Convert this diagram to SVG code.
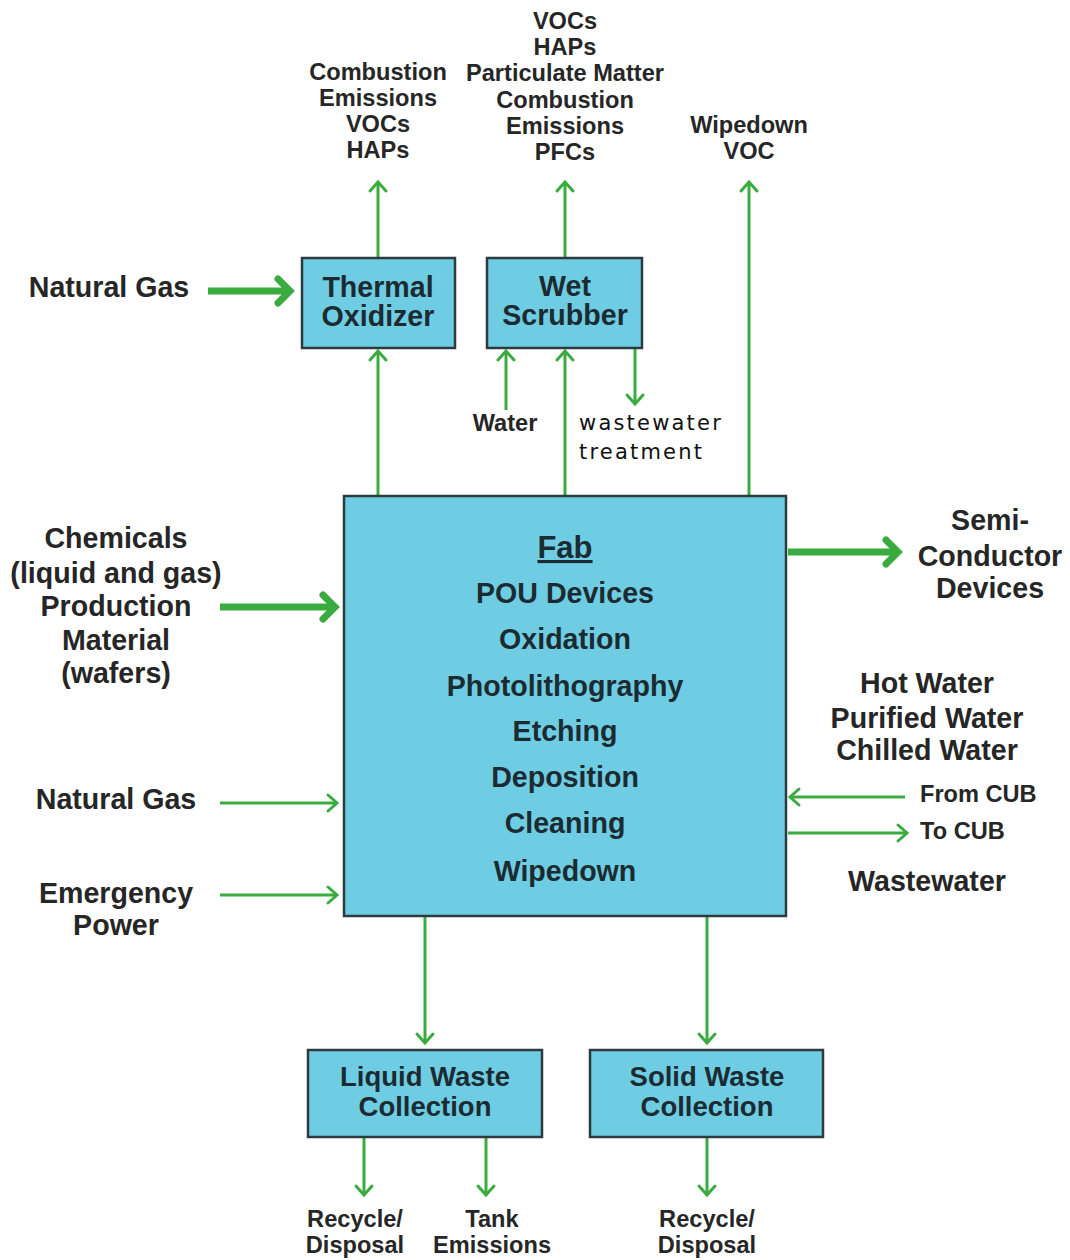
<svg xmlns="http://www.w3.org/2000/svg" width="1070" height="1260" viewBox="0 0 1070 1260">
<defs>
<style>
.box{fill:#6ecde3;stroke:#2d3a3e;stroke-width:2.5}
.t{font-family:"Liberation Sans",Arial,sans-serif;font-weight:bold;fill:#262626;text-anchor:middle}
.s22{font-size:23.6px}
.s27{font-size:28.6px}
.bx{font-family:"Liberation Sans",Arial,sans-serif;font-weight:bold;fill:#1c2b31;text-anchor:middle;font-size:28.6px}
.bw{font-size:27.5px}
.ln{stroke:#3aab3f;stroke-width:3;fill:none}
.thk{stroke:#3aab3f;stroke-width:7;fill:none}
.ww{font-family:"DejaVu Sans",Verdana,sans-serif;font-size:21px;fill:#111;letter-spacing:2.2px}
</style>
<marker id="a" markerUnits="userSpaceOnUse" markerWidth="24" markerHeight="24" refX="12" refY="12" orient="auto" overflow="visible">
<path d="M3,4 L12,12 L3,20" fill="none" stroke="#3aab3f" stroke-width="3" stroke-linecap="round"/>
</marker>
<marker id="A" markerUnits="userSpaceOnUse" markerWidth="40" markerHeight="40" refX="20" refY="20" orient="auto" overflow="visible">
<path d="M8,8 L20,20 L8,32" fill="none" stroke="#3aab3f" stroke-width="7" stroke-linecap="round"/>
</marker>
</defs>
<rect width="1070" height="1260" fill="#fff"/>

<g id="connectors">
<line class="ln" x1="378" y1="258" x2="378" y2="182" marker-end="url(#a)"/>
<line class="ln" x1="378" y1="496" x2="378" y2="351" marker-end="url(#a)"/>
<line class="ln" x1="565" y1="258" x2="565" y2="182" marker-end="url(#a)"/>
<line class="ln" x1="565" y1="496" x2="565" y2="351" marker-end="url(#a)"/>
<line class="ln" x1="506" y1="410" x2="506" y2="351" marker-end="url(#a)"/>
<line class="ln" x1="635" y1="348" x2="635" y2="404" marker-end="url(#a)"/>
<line class="ln" x1="749" y1="496" x2="749" y2="182" marker-end="url(#a)"/>
<line class="thk" x1="208" y1="291" x2="290" y2="291" marker-end="url(#A)"/>
<line class="thk" x1="220" y1="607" x2="335" y2="607" marker-end="url(#A)"/>
<line class="ln" x1="220" y1="803" x2="337" y2="803" marker-end="url(#a)"/>
<line class="ln" x1="220" y1="895" x2="337" y2="895" marker-end="url(#a)"/>
<line class="thk" x1="788" y1="552" x2="898" y2="552" marker-end="url(#A)"/>
<line class="ln" x1="905" y1="797" x2="790" y2="797" marker-end="url(#a)"/>
<line class="ln" x1="788" y1="833" x2="907" y2="833" marker-end="url(#a)"/>
<line class="ln" x1="425" y1="916" x2="425" y2="1043" marker-end="url(#a)"/>
<line class="ln" x1="707" y1="916" x2="707" y2="1043" marker-end="url(#a)"/>
<line class="ln" x1="364" y1="1137" x2="364" y2="1195" marker-end="url(#a)"/>
<line class="ln" x1="486" y1="1137" x2="486" y2="1195" marker-end="url(#a)"/>
<line class="ln" x1="707" y1="1137" x2="707" y2="1195" marker-end="url(#a)"/>
</g>

<g id="thermal-oxidizer">
<rect class="box" x="302" y="258" width="153" height="90"/>
<text class="bx" x="378" y="297">Thermal</text>
<text class="bx" x="378" y="326">Oxidizer</text>
</g>
<g id="wet-scrubber">
<rect class="box" x="487" y="258" width="155" height="90"/>
<text class="bx" x="565" y="296">Wet</text>
<text class="bx" x="565" y="325">Scrubber</text>
</g>
<g id="fab">
<rect class="box" x="344" y="496" width="442" height="420"/>
<text class="bx" x="565" y="558" style="font-size:31px;text-decoration:underline">Fab</text>
<text class="bx" x="565" y="603">POU Devices</text>
<text class="bx" x="565" y="649">Oxidation</text>
<text class="bx" x="565" y="696">Photolithography</text>
<text class="bx" x="565" y="741">Etching</text>
<text class="bx" x="565" y="787">Deposition</text>
<text class="bx" x="565" y="833">Cleaning</text>
<text class="bx" x="565" y="881">Wipedown</text>
</g>
<g id="liquid-waste">
<rect class="box" x="308" y="1050" width="234" height="87"/>
<text class="bx bw" x="425" y="1086">Liquid Waste</text>
<text class="bx bw" x="425" y="1116">Collection</text>
</g>
<g id="solid-waste">
<rect class="box" x="590" y="1050" width="233" height="87"/>
<text class="bx bw" x="707" y="1086">Solid Waste</text>
<text class="bx bw" x="707" y="1116">Collection</text>
</g>

<g id="labels">
<text class="t s22" x="378" y="80">Combustion</text>
<text class="t s22" x="378" y="106">Emissions</text>
<text class="t s22" x="378" y="132">VOCs</text>
<text class="t s22" x="378" y="158">HAPs</text>

<text class="t s22" x="565" y="29">VOCs</text>
<text class="t s22" x="565" y="55">HAPs</text>
<text class="t s22" x="565" y="81">Particulate Matter</text>
<text class="t s22" x="565" y="108">Combustion</text>
<text class="t s22" x="565" y="134">Emissions</text>
<text class="t s22" x="565" y="160">PFCs</text>

<text class="t s22" x="749" y="133">Wipedown</text>
<text class="t s22" x="749" y="159">VOC</text>

<text class="t s27" x="109" y="297">Natural Gas</text>

<text class="t s22" x="505" y="431">Water</text>
<text class="ww" x="579" y="430">wastewater</text>
<text class="ww" x="579" y="459">treatment</text>

<text class="t s27" x="116" y="548">Chemicals</text>
<text class="t s27" x="116" y="583">(liquid and gas)</text>
<text class="t s27" x="116" y="616">Production</text>
<text class="t s27" x="116" y="650">Material</text>
<text class="t s27" x="116" y="683">(wafers)</text>

<text class="t s27" x="116" y="809">Natural Gas</text>
<text class="t s27" x="116" y="903">Emergency</text>
<text class="t s27" x="116" y="935">Power</text>

<text class="t s27" x="990" y="530">Semi-</text>
<text class="t s27" x="990" y="566">Conductor</text>
<text class="t s27" x="990" y="598">Devices</text>

<text class="t s27" x="927" y="693">Hot Water</text>
<text class="t s27" x="927" y="728">Purified Water</text>
<text class="t s27" x="927" y="760">Chilled Water</text>
<text class="t s22" x="920" y="802" style="text-anchor:start">From CUB</text>
<text class="t s22" x="920" y="839" style="text-anchor:start">To CUB</text>
<text class="t s27" x="927" y="891">Wastewater</text>

<text class="t s22" x="355" y="1227">Recycle/</text>
<text class="t s22" x="355" y="1253">Disposal</text>
<text class="t s22" x="492" y="1227">Tank</text>
<text class="t s22" x="492" y="1253">Emissions</text>
<text class="t s22" x="707" y="1227">Recycle/</text>
<text class="t s22" x="707" y="1253">Disposal</text>
</g>
</svg>
